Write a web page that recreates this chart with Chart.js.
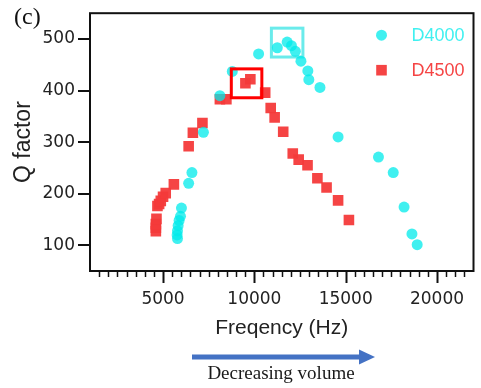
<!DOCTYPE html>
<html>
<head>
<meta charset="utf-8">
<script src="https://cdn.jsdelivr.net/npm/chart.js@4.4.1/dist/chart.umd.min.js"></script>
<style>
  html, body { margin: 0; padding: 0; background: #fff; }
  #wrap { width: 481px; height: 388px; position: relative; }
</style>
</head>
<body>
<div id="wrap"><canvas id="c" width="481" height="388"></canvas></div>
<script>
// ---- data ----
const seriesNames = ['D4000', 'D4500'];

const d4000Freq = [6008, 5954, 5880, 5825, 5790, 5771, 5790, 6402, 6582, 7211, 8112, 8792,
  10232, 11257, 11796, 12030, 12246, 12551, 12929, 12983, 13592, 14585, 16796, 17605, 18198, 18630, 18916];
const d4000Q = [172, 156, 148, 138, 128, 120, 113, 220, 241, 319, 390, 437,
  471, 483, 494, 487, 476, 457, 438, 421, 406, 310, 271, 241, 174, 122, 101];

const d4500Freq = [4606, 4606, 4606, 4639, 4693, 4784, 4876, 5000, 5146, 5593, 6402, 6634, 7157,
  8112, 8468, 9510, 9780, 10593, 10895, 11111, 11580, 12103, 12427, 12912, 13452, 13954, 14585, 15178];
const d4500Q = [127, 134, 141, 151, 176, 180, 186, 194, 201, 218, 292, 318, 337,
  383, 383, 414, 422, 396, 366, 348, 320, 278, 266, 255, 230, 212, 187, 149];

// highlight boxes in data units: [xMin, xMax, yMin, yMax]
const cyanBox = [10933, 12659, 465, 521];
const redBox = [8738, 10410, 386, 442];

const xTickLabels = [5000, 10000, 15000, 20000];
const yTickLabels = [100, 200, 300, 400, 500];
const xRange = [1000, 22000];
const yRange = [50, 550];
const xMinorStep = 500;

const xTitle = 'Freqency (Hz)';
const yTitle = 'Q factor';
const panelLabel = '(c)';
const arrowLabel = 'Decreasing volume';

const CYAN = 'rgba(0, 235, 235, 0.75)';
const RED = 'rgba(244, 58, 58, 0.95)';

function toPoints(xs, ys) { return xs.map((x, i) => ({ x: x, y: ys[i] })); }

const minorTicks = [];
for (let v = xRange[0]; v <= xRange[1]; v += xMinorStep) minorTicks.push(v);

const decorPlugin = {
  id: 'decor',
  beforeDatasetsDraw(chart) {
    const { ctx, scales: { x, y } } = chart;
    ctx.save();
    ctx.lineWidth = 3;
    ctx.strokeStyle = 'rgba(80, 232, 232, 0.85)';
    ctx.strokeRect(x.getPixelForValue(cyanBox[0]), y.getPixelForValue(cyanBox[3]),
      x.getPixelForValue(cyanBox[1]) - x.getPixelForValue(cyanBox[0]),
      y.getPixelForValue(cyanBox[2]) - y.getPixelForValue(cyanBox[3]));
    ctx.restore();
  },
  afterDatasetsDraw(chart) {
    const { ctx, scales: { x, y } } = chart;
    ctx.save();
    ctx.lineWidth = 3;
    ctx.strokeStyle = '#ff0000';
    ctx.strokeRect(x.getPixelForValue(redBox[0]), y.getPixelForValue(redBox[3]),
      x.getPixelForValue(redBox[1]) - x.getPixelForValue(redBox[0]),
      y.getPixelForValue(redBox[2]) - y.getPixelForValue(redBox[3]));
    ctx.restore();
  },
  afterDraw(chart) {
    const { ctx, chartArea: a, scales: { x, y } } = chart;
    ctx.save();
    // frame
    ctx.strokeStyle = '#111';
    ctx.lineWidth = 2;
    ctx.strokeRect(a.left, a.top, a.right - a.left, a.bottom - a.top);
    // x ticks
    minorTicks.forEach(v => {
      const px = Math.round(x.getPixelForValue(v)) + 0.5;
      const major = xTickLabels.includes(v);
      if (px < a.left + 2 || px > a.right - 1) return;
      ctx.lineWidth = major ? 2 : 1.5;
      ctx.beginPath();
      ctx.moveTo(px, a.bottom);
      ctx.lineTo(px, a.bottom + (major ? 12 : 6));
      ctx.stroke();
    });
    // y ticks
    yTickLabels.forEach(v => {
      const py = Math.round(y.getPixelForValue(v));
      ctx.lineWidth = 2;
      ctx.beginPath();
      ctx.moveTo(a.left, py);
      ctx.lineTo(a.left - 12, py);
      ctx.stroke();
    });
    // legend
    const items = [
      { ds: chart.data.datasets[0], dy: 22 },
      { ds: chart.data.datasets[1], dy: 57 }
    ];
    ctx.font = '18px "Liberation Sans", Arial, sans-serif';
    ctx.textBaseline = 'middle';
    ctx.textAlign = 'left';
    items.forEach(it => {
      const mx = a.right - 92, my = a.top + it.dy;
      ctx.fillStyle = it.ds.backgroundColor;
      if (it.ds.pointStyle === 'circle') {
        ctx.beginPath();
        ctx.arc(mx, my, 5.5, 0, Math.PI * 2);
        ctx.fill();
      } else {
        ctx.fillRect(mx - 5.3, my - 5.3, 10.6, 10.6);
      }
      ctx.fillText(it.ds.label, a.right - 62, my + 1);
    });
    // panel label
    ctx.fillStyle = '#111';
    ctx.font = '24px "Liberation Serif", "Times New Roman", serif';
    ctx.textAlign = 'left';
    ctx.fillText(panelLabel, 14, 18);
    // arrow
    const ax0 = 192, ax1 = 375, ay = 357;
    ctx.fillStyle = '#4472c4';
    ctx.fillRect(ax0, ay - 2.5, ax1 - ax0 - 14, 5);
    ctx.beginPath();
    ctx.moveTo(ax1, ay);
    ctx.lineTo(ax1 - 16, ay - 7.5);
    ctx.lineTo(ax1 - 16, ay + 7.5);
    ctx.closePath();
    ctx.fill();
    // arrow label
    ctx.fillStyle = '#1a1a1a';
    ctx.font = '19px "Liberation Serif", "Times New Roman", serif';
    ctx.textAlign = 'center';
    ctx.fillText(arrowLabel, 281, 374);
    ctx.restore();
  }
};

new Chart(document.getElementById('c'), {
  type: 'scatter',
  data: {
    datasets: [
      {
        label: seriesNames[0],
        data: toPoints(d4000Freq, d4000Q),
        pointStyle: 'circle',
        pointRadius: 5.5,
        pointHoverRadius: 5.5,
        borderWidth: 0,
        backgroundColor: CYAN,
        borderColor: CYAN
      },
      {
        label: seriesNames[1],
        data: toPoints(d4500Freq, d4500Q),
        pointStyle: 'rect',
        pointRadius: 7.5,
        pointHoverRadius: 7.5,
        borderWidth: 0,
        backgroundColor: RED,
        borderColor: RED
      }
    ]
  },
  options: {
    responsive: false,
    animation: false,
    events: [],
    layout: { padding: { top: 12, right: 3, left: 0, bottom: 0 } },
    plugins: { legend: { display: false }, tooltip: { enabled: false } },
    scales: {
      x: {
        type: 'linear',
        min: xRange[0],
        max: xRange[1],
        afterBuildTicks: s => { s.ticks = minorTicks.map(v => ({ value: v })); },
        afterFit: s => { s.height = 117; },
        grid: { display: true, drawOnChartArea: false, drawTicks: true, tickLength: 12, color: 'rgba(0,0,0,0)' },
        border: { display: false },
        ticks: {
          autoSkip: false,
          maxRotation: 0,
          padding: 6,
          color: '#222',
          font: { family: '"DejaVu Sans", sans-serif', size: 17 },
          callback: v => (xTickLabels.includes(v) ? String(v) : '')
        },
        title: {
          display: true,
          text: xTitle,
          color: '#222',
          font: { family: '"Liberation Sans", Arial, sans-serif', size: 21 },
          padding: { top: 0, bottom: 47 }
        }
      },
      y: {
        type: 'linear',
        min: yRange[0],
        max: yRange[1],
        afterBuildTicks: s => { s.ticks = yTickLabels.map(v => ({ value: v })); },
        afterFit: s => { s.width = 90; },
        grid: { display: true, drawOnChartArea: false, drawTicks: true, tickLength: 12, color: 'rgba(0,0,0,0)' },
        border: { display: false },
        ticks: {
          padding: 3,
          color: '#222',
          font: { family: '"DejaVu Sans", sans-serif', size: 17 },
          callback: v => String(v)
        },
        title: {
          display: true,
          text: yTitle,
          color: '#222',
          font: { family: '"Liberation Sans", Arial, sans-serif', size: 23 },
          padding: { top: 10, bottom: 0 }
        }
      }
    }
  },
  plugins: [decorPlugin]
});
</script>
</body>
</html>
